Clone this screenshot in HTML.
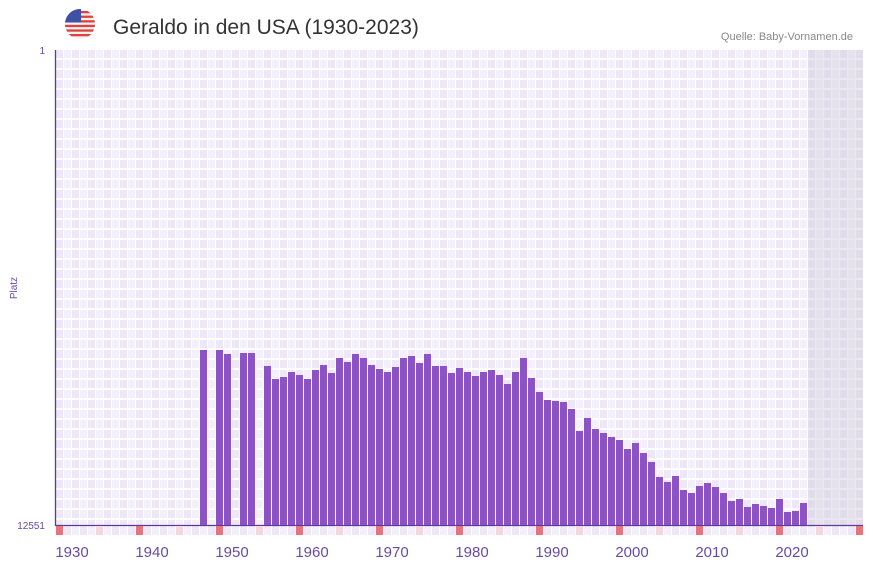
<!DOCTYPE html>
<html><head><meta charset="utf-8"><style>
html,body{margin:0;padding:0;background:#fff;}
body{width:873px;height:567px;overflow:hidden;font-family:"Liberation Sans",sans-serif;}
</style></head><body>
<svg width="873" height="567" xmlns="http://www.w3.org/2000/svg">
<defs>
<pattern id="g" x="56" y="50" width="16" height="10" patternUnits="userSpaceOnUse">
<rect x="0" y="0" width="16" height="10" fill="#fff"/>
<rect x="0" y="0" width="7" height="8" fill="#ede7f8"/>
<rect x="8" y="0" width="7" height="8" fill="#f3effb"/>
</pattern>
<pattern id="gg" x="56" y="50" width="16" height="10" patternUnits="userSpaceOnUse">
<rect x="0" y="0" width="16" height="10" fill="#ebe8f1"/>
<rect x="0" y="0" width="7" height="8" fill="#e1dcea"/>
<rect x="8" y="0" width="7" height="8" fill="#e5e1ed"/>
</pattern>
<pattern id="m" x="56" y="526" width="16" height="10" patternUnits="userSpaceOnUse">
<rect x="0" y="0" width="16" height="10" fill="#fff"/>
<rect x="0" y="0" width="7" height="10" fill="#f3effb"/>
<rect x="8" y="0" width="7" height="10" fill="#ede7f8"/>
</pattern>
<clipPath id="fc"><circle cx="80" cy="24" r="15"/></clipPath>
</defs>
<g clip-path="url(#fc)">
<rect x="65" y="9" width="30" height="30" fill="#f2f2f2"/>
<rect x="65" y="11" width="30" height="2.3" fill="#e0413d"/>
<rect x="65" y="15.6" width="30" height="2.3" fill="#e0413d"/>
<rect x="65" y="20.2" width="30" height="2.3" fill="#e0413d"/>
<rect x="65" y="24.8" width="30" height="2.3" fill="#e0413d"/>
<rect x="65" y="29.4" width="30" height="2.3" fill="#e0413d"/>
<rect x="65" y="34" width="30" height="2.3" fill="#e0413d"/>
<rect x="65" y="9" width="16" height="13.5" fill="#3f51a5"/>
</g>
<text x="113" y="34" font-size="21" fill="#333">Geraldo in den USA (1930-2023)</text>
<text x="853" y="40" text-anchor="end" font-size="11" fill="#888">Quelle: Baby-Vornamen.de</text>
<rect x="56" y="50" width="752" height="475" fill="url(#g)"/>
<rect x="808" y="50" width="55" height="475" fill="url(#gg)"/>
<rect x="56" y="526" width="807" height="9" fill="url(#m)"/>
<line x1="55.5" y1="50" x2="55.5" y2="526" stroke="#5b3a96" stroke-width="1.3"/>
<line x1="55" y1="525.5" x2="863" y2="525.5" stroke="#5b3a96" stroke-width="1.3"/>
<text x="45" y="54" text-anchor="end" font-size="10" fill="#6a4aa0">1</text>
<text x="45" y="529" text-anchor="end" font-size="10" fill="#6a4aa0">12551</text>
<text transform="translate(17,288) rotate(-90)" text-anchor="middle" font-size="10" fill="#6a4aa0">Platz</text>
<g fill="#e8737a">
<rect x="56" y="526" width="7" height="9"/><rect x="136" y="526" width="7" height="9"/><rect x="216" y="526" width="7" height="9"/><rect x="296" y="526" width="7" height="9"/><rect x="376" y="526" width="7" height="9"/><rect x="456" y="526" width="7" height="9"/><rect x="536" y="526" width="7" height="9"/><rect x="616" y="526" width="7" height="9"/><rect x="696" y="526" width="7" height="9"/><rect x="776" y="526" width="7" height="9"/><rect x="856" y="526" width="7" height="9"/>
</g>
<g fill="#f6d6df">
<rect x="96" y="526" width="7" height="9"/><rect x="176" y="526" width="7" height="9"/><rect x="256" y="526" width="7" height="9"/><rect x="336" y="526" width="7" height="9"/><rect x="416" y="526" width="7" height="9"/><rect x="496" y="526" width="7" height="9"/><rect x="576" y="526" width="7" height="9"/><rect x="656" y="526" width="7" height="9"/><rect x="736" y="526" width="7" height="9"/><rect x="816" y="526" width="7" height="9"/>
</g>
<g font-size="15" fill="#6a4aa0" text-anchor="middle">
<text x="72" y="557">1930</text><text x="152" y="557">1940</text><text x="232" y="557">1950</text><text x="312" y="557">1960</text><text x="392" y="557">1970</text><text x="472" y="557">1980</text><text x="552" y="557">1990</text><text x="632" y="557">2000</text><text x="712" y="557">2010</text><text x="792" y="557">2020</text>
</g>
<g fill="#8c52c6">
<rect x="200" y="350" width="7" height="175"/>
<rect x="216" y="350" width="7" height="175"/>
<rect x="224" y="354" width="7" height="171"/>
<rect x="240" y="353" width="7" height="172"/>
<rect x="248" y="353" width="7" height="172"/>
<rect x="264" y="366" width="7" height="159"/>
<rect x="272" y="379" width="7" height="146"/>
<rect x="280" y="377" width="7" height="148"/>
<rect x="288" y="372" width="7" height="153"/>
<rect x="296" y="375" width="7" height="150"/>
<rect x="304" y="379" width="7" height="146"/>
<rect x="312" y="370" width="7" height="155"/>
<rect x="320" y="365" width="7" height="160"/>
<rect x="328" y="373" width="7" height="152"/>
<rect x="336" y="358" width="7" height="167"/>
<rect x="344" y="362" width="7" height="163"/>
<rect x="352" y="354" width="7" height="171"/>
<rect x="360" y="358" width="7" height="167"/>
<rect x="368" y="365" width="7" height="160"/>
<rect x="376" y="369" width="7" height="156"/>
<rect x="384" y="372" width="7" height="153"/>
<rect x="392" y="367" width="7" height="158"/>
<rect x="400" y="358" width="7" height="167"/>
<rect x="408" y="356" width="7" height="169"/>
<rect x="416" y="363" width="7" height="162"/>
<rect x="424" y="354" width="7" height="171"/>
<rect x="432" y="366" width="7" height="159"/>
<rect x="440" y="366" width="7" height="159"/>
<rect x="448" y="373" width="7" height="152"/>
<rect x="456" y="368" width="7" height="157"/>
<rect x="464" y="372" width="7" height="153"/>
<rect x="472" y="376" width="7" height="149"/>
<rect x="480" y="372" width="7" height="153"/>
<rect x="488" y="370" width="7" height="155"/>
<rect x="496" y="375" width="7" height="150"/>
<rect x="504" y="384" width="7" height="141"/>
<rect x="512" y="372" width="7" height="153"/>
<rect x="520" y="358" width="7" height="167"/>
<rect x="528" y="378" width="7" height="147"/>
<rect x="536" y="392" width="7" height="133"/>
<rect x="544" y="400" width="7" height="125"/>
<rect x="552" y="401" width="7" height="124"/>
<rect x="560" y="402" width="7" height="123"/>
<rect x="568" y="409" width="7" height="116"/>
<rect x="576" y="431" width="7" height="94"/>
<rect x="584" y="418" width="7" height="107"/>
<rect x="592" y="429" width="7" height="96"/>
<rect x="600" y="433" width="7" height="92"/>
<rect x="608" y="437" width="7" height="88"/>
<rect x="616" y="440" width="7" height="85"/>
<rect x="624" y="449" width="7" height="76"/>
<rect x="632" y="443" width="7" height="82"/>
<rect x="640" y="453" width="7" height="72"/>
<rect x="648" y="462" width="7" height="63"/>
<rect x="656" y="477" width="7" height="48"/>
<rect x="664" y="482" width="7" height="43"/>
<rect x="672" y="476" width="7" height="49"/>
<rect x="680" y="490" width="7" height="35"/>
<rect x="688" y="493" width="7" height="32"/>
<rect x="696" y="486" width="7" height="39"/>
<rect x="704" y="483" width="7" height="42"/>
<rect x="712" y="487" width="7" height="38"/>
<rect x="720" y="493" width="7" height="32"/>
<rect x="728" y="501" width="7" height="24"/>
<rect x="736" y="499" width="7" height="26"/>
<rect x="744" y="507" width="7" height="18"/>
<rect x="752" y="504" width="7" height="21"/>
<rect x="760" y="506" width="7" height="19"/>
<rect x="768" y="508" width="7" height="17"/>
<rect x="776" y="499" width="7" height="26"/>
<rect x="784" y="512" width="7" height="13"/>
<rect x="792" y="511" width="7" height="14"/>
<rect x="800" y="503" width="7" height="22"/>
</g>
</svg>
</body></html>
